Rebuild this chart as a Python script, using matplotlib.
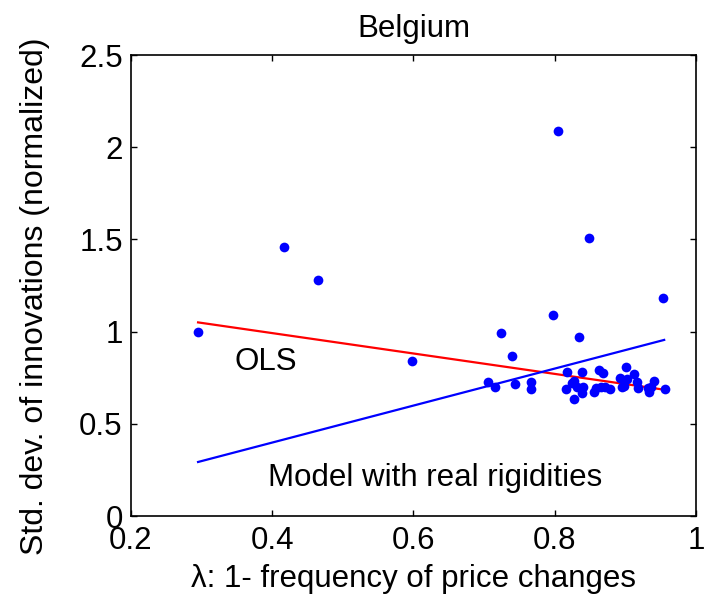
"""
Belgium: std. dev. of innovations vs lambda, with OLS and model lines.
"""
import matplotlib
matplotlib.use("Agg")
import matplotlib.pyplot as plt
import numpy as np

plt.rcParams["font.family"] = ["Liberation Sans", "DejaVu Sans"]

lam = [0.295, 0.417, 0.465, 0.598, 0.805, 0.848, 0.954, 0.797, 0.724, 0.834,
       0.739, 0.705, 0.715, 0.744, 0.767, 0.766,
       0.818, 0.839, 0.862, 0.901, 0.827, 0.816, 0.831, 0.840, 0.828, 0.858,
       0.866, 0.878, 0.893, 0.903, 0.912, 0.916, 0.895, 0.918, 0.932, 0.940,
       0.933, 0.956, 0.856, 0.839, 0.868, 0.871, 0.824, 0.898, 0.936]
sd = [1.00, 1.46, 1.28, 0.84, 2.09, 1.51, 1.18, 1.09, 0.995, 0.972,
      0.868, 0.728, 0.698, 0.716, 0.727, 0.689,
      0.783, 0.783, 0.792, 0.810, 0.732, 0.689, 0.701, 0.701, 0.634, 0.692,
      0.701, 0.689, 0.750, 0.743, 0.768, 0.725, 0.701, 0.692, 0.692, 0.732,
      0.674, 0.689, 0.671, 0.669, 0.777, 0.698, 0.720, 0.705, 0.698]

line_x = [0.295, 0.955]
ols_y = [1.05, 0.685]
model_y = [0.293, 0.955]

FS = 22.5

fig = plt.figure(figsize=(7.08, 6.08), dpi=100)
ax = fig.add_axes([0.185, 0.1513, 0.798, 0.7582])

ax.plot(lam, sd, "o", color="blue", ms=7.0, mew=0, zorder=3)
ax.plot(line_x, ols_y, color="red", lw=1.6, zorder=2)
ax.plot(line_x, model_y, color="blue", lw=1.6, zorder=2)

ax.text(0.391, 0.835, "OLS", fontsize=FS, ha="center", va="center")
ax.text(0.631, 0.206, "Model with real rigidities", fontsize=FS,
        ha="center", va="center")

ax.set_xlim(0.2, 1)
ax.set_ylim(0, 2.5)
ax.set_xticks([0.2, 0.4, 0.6, 0.8, 1])
ax.set_xticklabels(["0.2", "0.4", "0.6", "0.8", "1"])
ax.set_yticks([0, 0.5, 1, 1.5, 2, 2.5])
ax.set_yticklabels(["0", "0.5", "1", "1.5", "2", "2.5"])
ax.tick_params(direction="in", length=4, width=1, top=True, right=True,
               labelsize=FS)
ax.tick_params(axis="x", pad=7)
ax.tick_params(axis="y", pad=6)
for s in ax.spines.values():
    s.set_linewidth(1.2)

ax.set_title("Belgium", fontsize=FS, pad=13)
ax.set_xlabel("\u03bb: 1- frequency of price changes", fontsize=FS, labelpad=6)
fig.text(35 / 708, 1 - 296 / 608, "Std. dev. of innovations (normalized)",
         fontsize=23, rotation=90, ha="center", va="center")

fig.savefig("out.png", dpi=100)
